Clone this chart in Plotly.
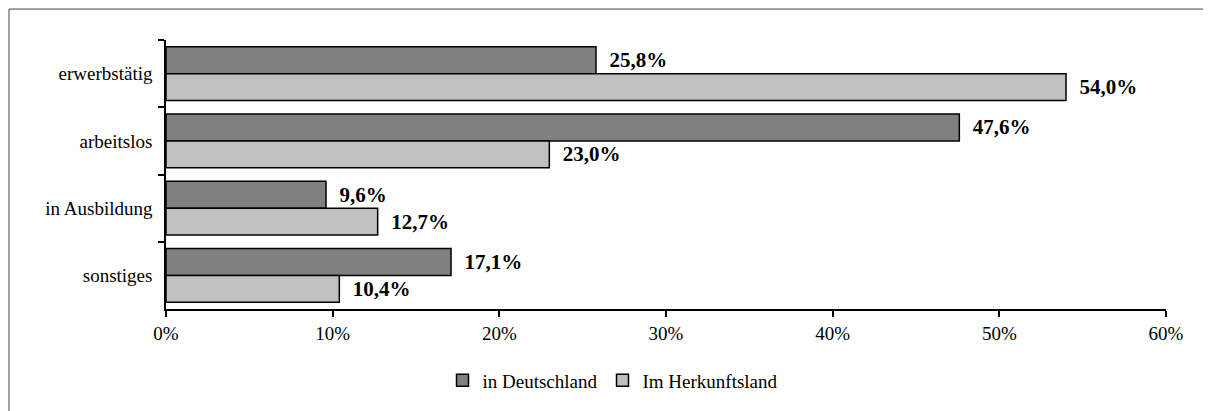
import plotly.graph_objects as go

categories = ["erwerbstätig", "arbeitslos", "in Ausbildung", "sonstiges"]
in_deutschland = [25.8, 47.6, 9.6, 17.1]
im_herkunftsland = [54.0, 23.0, 12.7, 10.4]
series_names = ["in Deutschland", "Im Herkunftsland"]
x_ticks = [0, 10, 20, 30, 40, 50, 60]

def fmt(v):
    return "\u00a0\u00a0" + f"{v:.1f}".replace(".", ",") + "%"

fig = go.Figure()
for name, vals, col in [(series_names[0], in_deutschland, "#808080"),
                        (series_names[1], im_herkunftsland, "#C0C0C0")]:
    fig.add_trace(go.Bar(
        y=categories, x=vals, name=name, orientation="h",
        marker=dict(color=col, line=dict(color="black", width=1.5)),
        text=[fmt(v) for v in vals], textposition="outside",
        textfont=dict(family="Liberation Serif", size=21, color="black", weight="bold"),
        cliponaxis=False,
    ))

fig.update_layout(
    width=1203, height=403,
    margin=dict(l=158, r=45, t=32, b=102),
    paper_bgcolor="white", plot_bgcolor="white",
    barmode="group", bargap=0.2, bargroupgap=0,
    font=dict(family="Liberation Serif", size=19, color="black"),
    showlegend=True,
    legend=dict(orientation="h", x=0.447, xanchor="center", y=-0.265, yanchor="middle",
                font=dict(family="Liberation Serif", size=19), itemwidth=30,
                traceorder="normal"),
    xaxis=dict(range=[0, 60], tickvals=x_ticks, ticktext=[f"{t}%" for t in x_ticks],
               showgrid=False, zeroline=False, showline=True, linecolor="black", linewidth=1.5,
               ticks="outside", ticklen=6, tickcolor="black", tickwidth=1.5),
    yaxis=dict(autorange="reversed", showgrid=False, showline=True, linecolor="black",
               linewidth=1.5, ticks="outside", tickson="boundaries", ticklen=6,
               tickcolor="black", tickwidth=1.5, ticklabelstandoff=8),
    shapes=[dict(type="rect", xref="paper", yref="paper",
                 x0=-0.157, x1=1.06, y0=-0.42, y1=1.115,
                 line=dict(color="#444444", width=1))],
)

fig.write_html("out.html")
